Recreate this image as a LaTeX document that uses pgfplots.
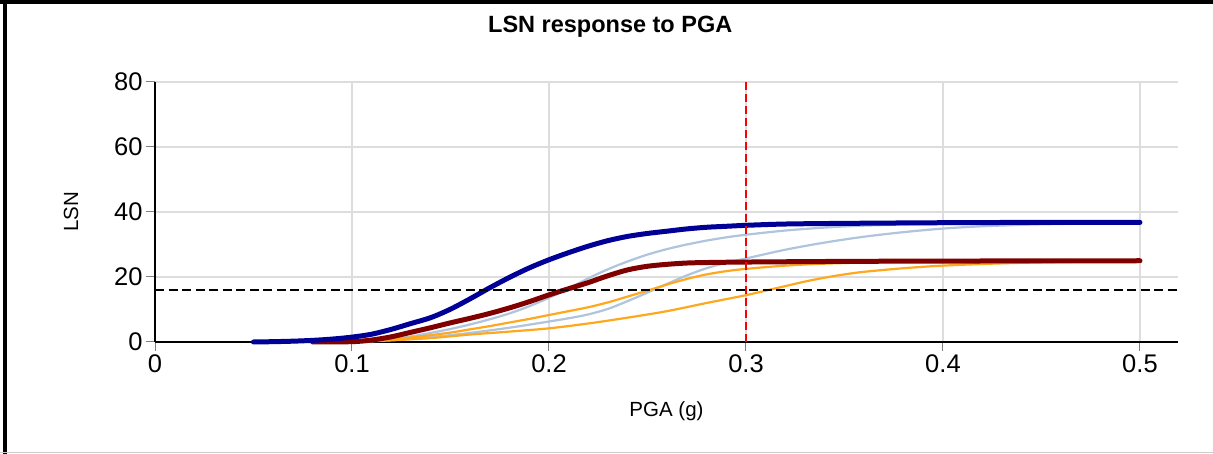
\documentclass[border=0pt]{standalone}
\usepackage{pgfplots}
\pgfplotsset{compat=1.18}
\usepackage{fontspec}
\setmainfont{Liberation Sans}
\definecolor{navyc}{RGB}{0,0,150}
\definecolor{maroonc}{RGB}{128,0,0}
\definecolor{lblue}{RGB}{176,196,222}
\definecolor{orangec}{RGB}{255,168,30}
\definecolor{gridc}{RGB}{221,221,221}

\pgfplotstableread{
x y
0.05 0
0.06 0.1
0.07 0.25
0.08 0.5
0.09 0.9
0.10 1.5
0.11 2.4
0.12 3.9
0.13 5.7
0.14 7.5
0.15 10.1
0.16 13.3
0.17 16.7
0.18 19.9
0.19 22.8
0.20 25.3
0.21 27.5
0.22 29.5
0.23 31.2
0.24 32.5
0.25 33.4
0.26 34.1
0.27 34.8
0.28 35.3
0.29 35.6
0.30 35.9
0.32 36.3
0.35 36.5
0.40 36.7
0.45 36.8
0.50 36.8
}\navy

\pgfplotstableread{
x y
0.08 0
0.10 0.1
0.11 0.6
0.12 1.6
0.13 3.0
0.14 4.4
0.15 5.9
0.16 7.3
0.17 8.8
0.18 10.5
0.19 12.4
0.20 14.5
0.21 16.4
0.22 18.3
0.23 20.4
0.24 22.2
0.25 23.3
0.26 23.9
0.27 24.3
0.28 24.45
0.30 24.6
0.35 24.8
0.40 24.9
0.50 25.0
}\maroon

\pgfplotstableread{
x y
0.10 0
0.11 0.3
0.12 0.9
0.13 1.7
0.14 2.8
0.15 4.0
0.16 5.4
0.17 7.0
0.18 8.8
0.19 11.0
0.20 13.6
0.21 16.5
0.22 19.6
0.23 22.4
0.24 24.8
0.25 26.9
0.26 28.6
0.27 30.0
0.28 31.2
0.29 32.2
0.30 33.0
0.32 34.3
0.34 35.2
0.36 35.8
0.40 36.4
0.45 36.7
0.50 36.8
}\lbup

\pgfplotstableread{
x y
0.10 0
0.12 0.6
0.14 1.5
0.16 2.8
0.18 4.4
0.20 6.3
0.21 7.3
0.22 8.5
0.23 10.2
0.24 12.6
0.25 15.2
0.26 17.9
0.27 20.5
0.28 22.7
0.29 24.4
0.30 25.7
0.32 28.4
0.34 30.6
0.36 32.4
0.38 33.8
0.40 34.9
0.42 35.6
0.45 36.2
0.50 36.7
}\lblo

\pgfplotstableread{
x y
0.10 0
0.11 0.3
0.12 0.8
0.13 1.4
0.14 2.1
0.15 2.9
0.16 3.9
0.17 4.9
0.18 6.0
0.19 7.1
0.20 8.3
0.21 9.5
0.22 10.7
0.23 12.2
0.24 14.0
0.25 15.8
0.26 17.7
0.27 19.4
0.28 20.8
0.29 21.8
0.30 22.5
0.32 23.5
0.34 24.1
0.37 24.6
0.40 24.8
0.50 25.0
}\orup

\pgfplotstableread{
x y
0.10 0
0.12 0.5
0.14 1.2
0.16 2.3
0.18 3.2
0.20 4.2
0.22 5.7
0.24 7.5
0.26 9.5
0.28 12.0
0.30 14.4
0.31 15.8
0.32 17.2
0.33 18.6
0.34 19.8
0.35 20.8
0.36 21.6
0.38 22.7
0.40 23.5
0.43 24.2
0.46 24.6
0.50 24.9
}\orlo

\begin{document}
\begin{tikzpicture}[x=1pt,y=1pt]
\useasboundingbox (0,0) rectangle (1213,454);
\fill[white] (0,0) rectangle (1213,454);
\begin{axis}[
  at={(155pt,112pt)}, anchor=south west,
  width=1023pt, height=260pt, scale only axis,
  xmin=0, xmax=0.5193, ymin=0, ymax=80,
  axis x line*=bottom, axis y line*=left,
  axis line style={black, line width=2pt},
  xtick={0,0.1,0.2,0.3,0.4,0.5},
  ytick={0,20,40,60,80},
  grid=major, major grid style={gridc, line width=2pt},
  tick align=outside, major tick length=9pt,
  tick style={gray, line width=1pt},
  /pgf/number format/assume math mode=true,
  tick label style={font=\fontsize{25.5}{30}\selectfont, text=black},
  title={LSN response to PGA},
  title style={at={(axis description cs:0.445,1.188)}, anchor=center, font=\bfseries\fontsize{23.5}{28}\selectfont},
  xlabel={PGA (g)},
  xlabel style={at={(axis description cs:0.5,-0.265)}, anchor=center, font=\fontsize{20.5}{24}\selectfont},
  ylabel={LSN},
  ylabel style={at={(axis description cs:-0.0821,0.5)}, anchor=center, font=\fontsize{20.5}{24}\selectfont},
  every axis plot/.append style={smooth, line cap=round, line join=round},
  clip=false,
]
\addplot[lblue, line width=2.2pt] table {\lblo};
\addplot[lblue, line width=2.2pt] table {\lbup};
\addplot[orangec, line width=2.2pt] table {\orlo};
\addplot[orangec, line width=2.2pt] table {\orup};
\addplot[maroonc, line width=5pt] table {\maroon};
\addplot[navyc, line width=5pt] table {\navy};
\addplot[black, line width=2.5pt, dash pattern=on 9pt off 4.5pt, line cap=butt, sharp plot] coordinates {(0,16) (0.5193,16)};
\addplot[red, line width=2pt, dash pattern=on 8pt off 4pt, line cap=butt, sharp plot] coordinates {(0.3,0) (0.3,80)};
\end{axis}
\draw[black, line width=4pt] (0,452) -- (1213,452);
\draw[black, line width=3.5pt] (5,0) -- (5,454);
\draw[gray!40, line width=1pt] (0,1.5) -- (1213,1.5);
\end{tikzpicture}
\end{document}
